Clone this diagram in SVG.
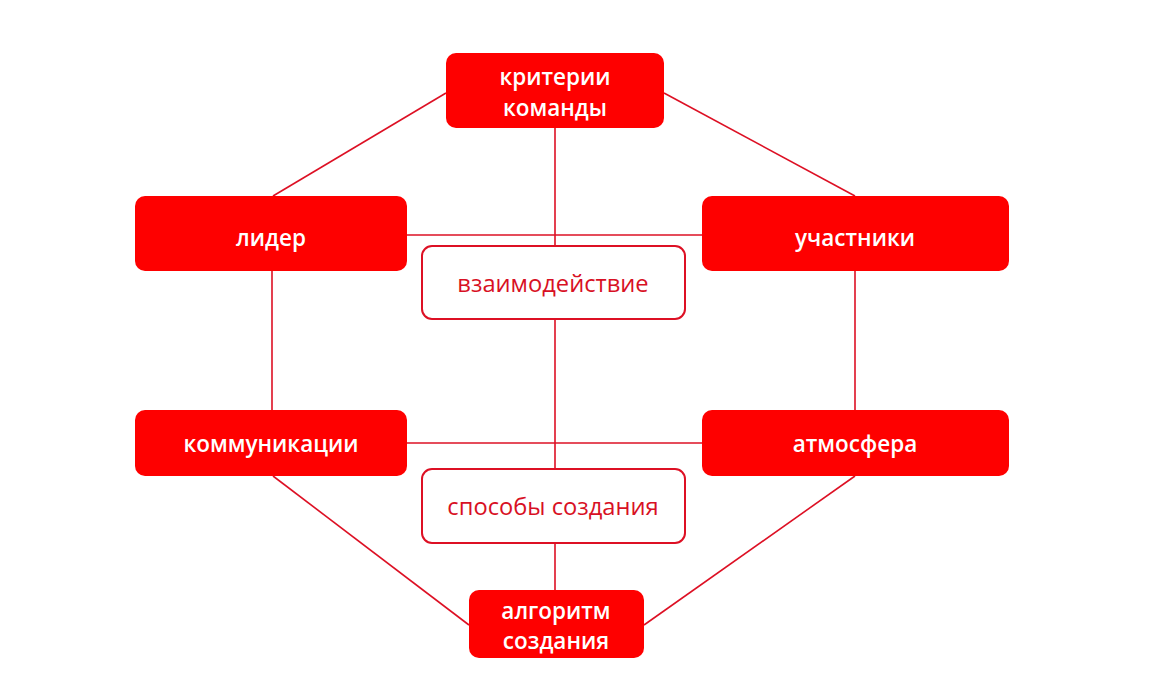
<svg xmlns="http://www.w3.org/2000/svg" width="1176" height="689" viewBox="0 0 1176 689">
<style>
.solid{fill:#fe0000;}
.outline{fill:#ffffff;stroke:#dd1024;stroke-width:2;}
.conn line{stroke:#dd1024;stroke-width:1.6;}
.wt{fill:#ffffff;font-family:"Open Sans","Liberation Sans",sans-serif;font-size:22.5px;font-weight:600;text-anchor:middle;}
.rt{fill:#d81024;font-family:"Open Sans","Liberation Sans",sans-serif;font-size:23.7px;text-anchor:middle;}
</style>
<rect width="1176" height="689" fill="#ffffff"/>
<g id="connectors" class="conn">
<line x1="446" y1="93" x2="273" y2="196"/>
<line x1="664" y1="93" x2="855" y2="196"/>
<line x1="555" y1="128" x2="555" y2="246"/>
<line x1="407" y1="235" x2="702" y2="235"/>
<line x1="555" y1="319" x2="555" y2="469"/>
<line x1="272" y1="271" x2="272" y2="410"/>
<line x1="855" y1="271" x2="855" y2="410"/>
<line x1="407" y1="443" x2="702" y2="443"/>
<line x1="555" y1="543" x2="555" y2="590"/>
<line x1="273" y1="476" x2="469" y2="625"/>
<line x1="855" y1="476" x2="644" y2="625"/>
</g>
<g id="node-kriterii">
<rect class="solid" x="446" y="53" width="218" height="75" rx="10"/>
<text class="wt" x="555" y="85">критерии</text>
<text class="wt" x="555" y="116">команды</text>
</g>
<g id="node-lider">
<rect class="solid" x="135" y="196" width="272" height="75" rx="10"/>
<text class="wt" x="271" y="246">лидер</text>
</g>
<g id="node-uchastniki">
<rect class="solid" x="702" y="196" width="307" height="75" rx="10"/>
<text class="wt" x="855" y="246">участники</text>
</g>
<g id="node-vzaimodeistvie">
<rect class="outline" x="422" y="246" width="263" height="73" rx="10"/>
<text class="rt" x="553" y="292">взаимодействие</text>
</g>
<g id="node-kommunikatsii">
<rect class="solid" x="135" y="410" width="272" height="66" rx="10"/>
<text class="wt" x="271" y="452">коммуникации</text>
</g>
<g id="node-atmosfera">
<rect class="solid" x="702" y="410" width="307" height="66" rx="10"/>
<text class="wt" x="855" y="452">атмосфера</text>
</g>
<g id="node-sposoby">
<rect class="outline" x="422" y="469" width="263" height="74" rx="10"/>
<text class="rt" x="553" y="515">способы создания</text>
</g>
<g id="node-algoritm">
<rect class="solid" x="469" y="590" width="175" height="68" rx="10"/>
<text class="wt" x="556" y="619">алгоритм</text>
<text class="wt" x="556" y="649">создания</text>
</g>
</svg>
